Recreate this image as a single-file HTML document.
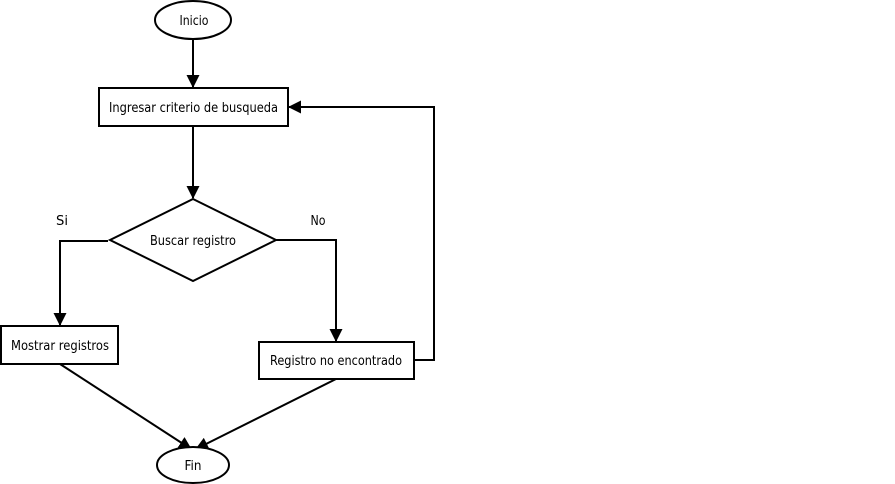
<!DOCTYPE html>
<html><head><meta charset="utf-8"><style>
html,body{margin:0;padding:0;background:#fff;}
svg{display:block;}
</style></head><body>
<svg width="895" height="484" viewBox="0 0 895 484" xmlns="http://www.w3.org/2000/svg">
<defs>
<marker id="a" markerWidth="13" markerHeight="13" refX="12" refY="6.5" orient="auto" markerUnits="userSpaceOnUse">
<path d="M0,0 L13,6.5 L0,13 Z" fill="#000"/>
</marker>
</defs>
<g fill="none" stroke="#000" stroke-width="2">
<ellipse cx="193" cy="20" rx="38" ry="19" fill="#fff"/>
<line x1="193" y1="39" x2="193" y2="87" marker-end="url(#a)"/>
<rect x="99" y="88" width="189" height="38" fill="#fff"/>
<line x1="193" y1="126" x2="193" y2="198" marker-end="url(#a)"/>
<polygon points="193,199 276,240 193,281 110,240" fill="#fff"/>
<polyline points="108,241 60,241 60,325" marker-end="url(#a)"/>
<rect x="1" y="326" width="117" height="38" fill="#fff"/>
<polyline points="276,240 336,240 336,341" marker-end="url(#a)"/>
<rect x="259" y="342" width="155" height="37" fill="#fff"/>
<polyline points="414,360 434,360 434,107 289,107" marker-end="url(#a)"/>
<line x1="60" y1="364" x2="191" y2="449" marker-end="url(#a)"/>
<line x1="336" y1="379" x2="196" y2="449" marker-end="url(#a)"/>
<ellipse cx="193" cy="465" rx="36" ry="18" fill="#fff"/>
</g>
<g font-family="DejaVu Sans, Liberation Sans, sans-serif" font-size="13" fill="#000" text-anchor="middle">
<text x="194" y="25" textLength="29" lengthAdjust="spacingAndGlyphs">Inicio</text>
<text x="193.5" y="112" textLength="169" lengthAdjust="spacingAndGlyphs">Ingresar criterio de busqueda</text>
<text x="193" y="245" textLength="86" lengthAdjust="spacingAndGlyphs">Buscar registro</text>
<text x="62" y="225" textLength="12" lengthAdjust="spacingAndGlyphs">Si</text>
<text x="318" y="225" textLength="15" lengthAdjust="spacingAndGlyphs">No</text>
<text x="60" y="350" textLength="98" lengthAdjust="spacingAndGlyphs">Mostrar registros</text>
<text x="336" y="365" textLength="132" lengthAdjust="spacingAndGlyphs">Registro no encontrado</text>
<text x="193" y="470" textLength="17" lengthAdjust="spacingAndGlyphs">Fin</text>
</g>
</svg>
</body></html>
